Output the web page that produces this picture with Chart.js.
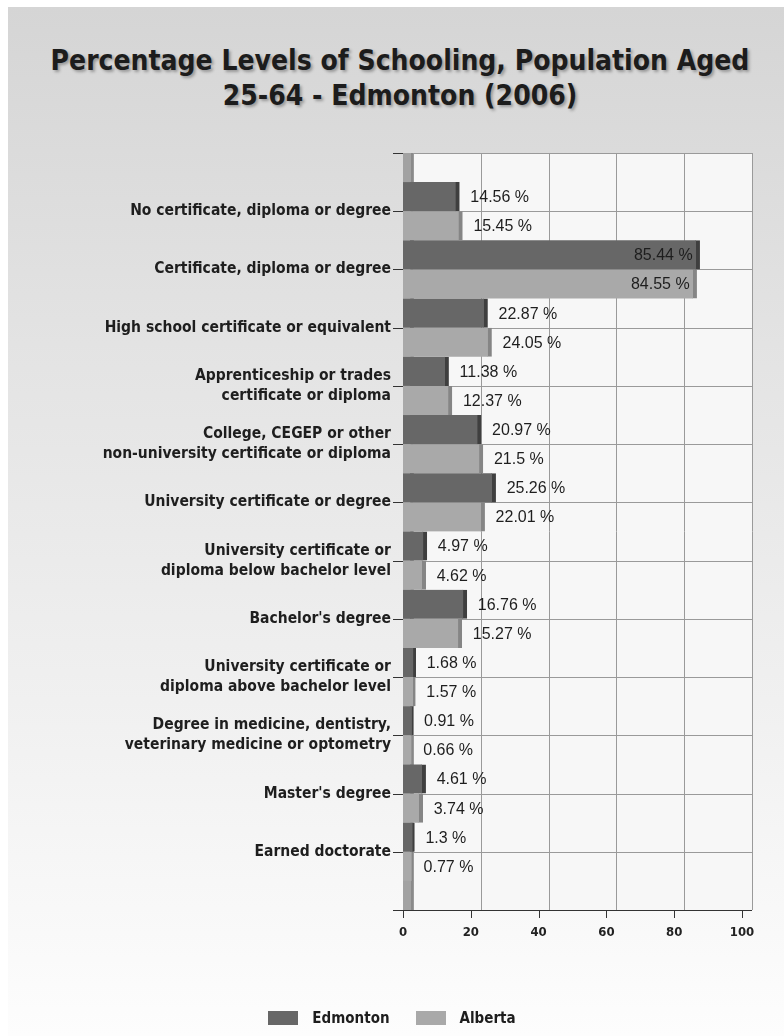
<!DOCTYPE html>
<html>
<head>
<meta charset="utf-8">
<title>Percentage Levels of Schooling, Population Aged 25-64 - Edmonton (2006)</title>
<script src="https://cdn.jsdelivr.net/npm/chart.js@4.4.1/dist/chart.umd.min.js"></script>
<style>
  html, body { margin: 0; padding: 0; background: #fff; }
  #wrap { position: relative; width: 784px; height: 1036px; overflow: hidden; }
  #panel {
    position: absolute; left: 8px; top: 7px; right: 0; bottom: 0;
    background: linear-gradient(to bottom, #d5d5d5 0%, #e4e4e4 35%, #f1f1f1 70%, #fdfdfd 100%);
  }
  #title {
    position: absolute; left: 8px; width: 784px; top: 43px;
    text-align: center; color: #1c1c1c;
    font: bold 28px/35px "DejaVu Sans Condensed", "DejaVu Sans", sans-serif;
    text-shadow: 2px 2px 3px rgba(0, 0, 0, 0.3);
  }
  #chart { position: absolute; left: 0; top: 0; }
  #legend {
    position: absolute; left: 0; width: 784px; top: 1009px;
    display: flex; justify-content: center; align-items: center;
    font: bold 15px "DejaVu Sans Condensed", "DejaVu Sans", sans-serif; color: #1e1e1e;
  }
  #legend .item { display: flex; align-items: center; margin: 0 13px; }
  #legend .swatch { width: 30px; height: 14px; margin-right: 14px; }
</style>
</head>
<body>
<div id="wrap">
  <div id="panel"></div>
  <div id="title">Percentage Levels of Schooling, Population Aged<br>25-64 - Edmonton (2006)</div>
  <canvas id="chart" width="784" height="1036"></canvas>
  <div id="legend"></div>
</div>
<script>
// levels of schooling, top to bottom
const categories = [
  "No certificate, diploma or degree",
  "Certificate, diploma or degree",
  "High school certificate or equivalent",
  ["Apprenticeship or trades", "certificate or diploma"],
  ["College, CEGEP or other", "non-university certificate or diploma"],
  "University certificate or degree",
  ["University certificate or", "diploma below bachelor level"],
  "Bachelor's degree",
  ["University certificate or", "diploma above bachelor level"],
  ["Degree in medicine, dentistry,", "veterinary medicine or optometry"],
  "Master's degree",
  "Earned doctorate"
];

const edmonton = [14.56, 85.44, 22.87, 11.38, 20.97, 25.26, 4.97, 16.76, 1.68, 0.91, 4.61, 1.3];
const alberta  = [15.45, 84.55, 24.05, 12.37, 21.5, 22.01, 4.62, 15.27, 1.57, 0.66, 3.74, 0.77];

const xTicks = [0, 20, 40, 60, 80, 100];

const FONT = '"DejaVu Sans Condensed", "DejaVu Sans", sans-serif';
const WALL = 7;   // depth of the fake 3d left wall
const BACK = 3;   // back wall grid offset

// 3d-ish decorations: back wall, left wall, grid, axis ticks, value labels
const depthPlugin = {
  id: 'depth3d',
  beforeDraw(chart) {
    const { ctx, chartArea: a, scales: { x, y } } = chart;
    ctx.save();
    ctx.fillStyle = '#f7f7f7';
    ctx.fillRect(a.left + BACK, a.top, a.right - a.left, a.bottom - a.top);

    ctx.strokeStyle = '#9a9a9a';
    ctx.lineWidth = 1;
    ctx.beginPath();
    xTicks.forEach(v => {
      const px = Math.round(x.getPixelForValue(v) + BACK) + 0.5;
      ctx.moveTo(px, a.top);
      ctx.lineTo(px, a.bottom);
    });
    for (let i = 0; i <= categories.length + 1; i++) {
      const py = Math.round(y.getPixelForValue(i)) + 0.5;
      ctx.moveTo(a.left + BACK, py);
      ctx.lineTo(a.right + BACK, py);
    }
    ctx.stroke();

    // left wall
    ctx.fillStyle = '#a2a2a2';
    ctx.fillRect(a.left - WALL, a.top, WALL + BACK, a.bottom - a.top);
    ctx.fillStyle = '#8a8a8a';
    ctx.fillRect(a.left + BACK - 2, a.top, 2, a.bottom - a.top);
    ctx.restore();
  },
  beforeDatasetsDraw(chart) {
    // bars run into the left wall
    const { ctx, chartArea: a } = chart;
    ctx.save();
    chart.data.datasets.forEach((ds, di) => {
      chart.getDatasetMeta(di).data.forEach(bar => {
        ctx.fillStyle = ds.backgroundColor;
        ctx.fillRect(a.left - WALL, bar.y - bar.height / 2, WALL + 1, bar.height);
      });
    });
    ctx.restore();
  },
  afterDatasetsDraw(chart) {
    const { ctx } = chart;
    ctx.save();
    ctx.font = '16px "Liberation Sans", Arial, sans-serif';
    ctx.fillStyle = '#1e1e1e';
    ctx.textBaseline = 'middle';
    chart.data.datasets.forEach((ds, di) => {
      chart.getDatasetMeta(di).data.forEach((bar, i) => {
        const v = ds.data[i].x;
        const txt = v + ' %';
        if (v > 80) {
          ctx.textAlign = 'right';
          ctx.fillText(txt, bar.x - 7, bar.y + 1);
        } else {
          ctx.textAlign = 'left';
          ctx.fillText(txt, bar.x + 11, bar.y + 1);
        }
      });
    });
    ctx.restore();
  },
  afterDraw(chart) {
    const { ctx, chartArea: a, scales: { x, y } } = chart;
    ctx.save();
    ctx.strokeStyle = '#333';
    ctx.lineWidth = 1;
    ctx.beginPath();
    // front x axis
    ctx.moveTo(a.left - WALL, a.bottom + 0.5);
    ctx.lineTo(a.right + BACK, a.bottom + 0.5);
    xTicks.forEach(v => {
      const px = Math.round(x.getPixelForValue(v) - WALL) + 0.5;
      ctx.moveTo(px, a.bottom);
      ctx.lineTo(px, a.bottom + 8);
    });
    for (let i = 0; i <= categories.length + 1; i++) {
      const py = Math.round(y.getPixelForValue(i)) + 0.5;
      ctx.moveTo(a.left - WALL - 10, py);
      ctx.lineTo(a.left - WALL, py);
    }
    ctx.stroke();
    ctx.restore();
  }
};

const chart = new Chart(document.getElementById('chart'), {
  type: 'bar',
  data: {
    datasets: [
      {
        label: 'Edmonton',
        data: edmonton.map((v, i) => ({ x: v, y: i + 1 })),
        backgroundColor: '#676767',
        borderColor: '#3f3f3f',
        borderWidth: { top: 0, right: 4, bottom: 0, left: 0 },
        borderSkipped: false
      },
      {
        label: 'Alberta',
        data: alberta.map((v, i) => ({ x: v, y: i + 1 })),
        backgroundColor: '#a9a9a9',
        borderColor: '#858585',
        borderWidth: { top: 0, right: 4, bottom: 0, left: 0 },
        borderSkipped: false
      }
    ]
  },
  options: {
    indexAxis: 'y',
    responsive: false,
    animation: false,
    barPercentage: 1,
    categoryPercentage: 1,
    layout: { padding: { top: 153, right: 35, left: 0, bottom: 0 } },
    scales: {
      x: {
        type: 'linear',
        min: 0,
        max: 100,
        afterBuildTicks: s => { s.ticks = xTicks.map(v => ({ value: v })); },
        afterFit: s => { s.height = 126; },
        grid: { display: false, drawTicks: false },
        border: { display: false },
        ticks: {
          padding: 15,
          labelOffset: -WALL,
          color: '#222',
          font: { family: FONT, size: 13, weight: 'bold' }
        }
      },
      y: {
        type: 'linear',
        reverse: true,
        offset: false,
        min: 0,
        max: categories.length + 1,
        afterFit: s => { s.width = 410; },
        grid: { display: false, drawTicks: false },
        border: { display: false },
        ticks: {
          stepSize: 1,
          autoSkip: false,
          padding: 19,
          color: '#1e1e1e',
          font: { family: FONT, size: 15.5, weight: 'bold', lineHeight: 1.3 },
          callback: v => categories[v - 1] || ''
        }
      }
    },
    plugins: {
      tooltip: { enabled: false },
      legend: { display: false }
    }
  },
  plugins: [depthPlugin]
});

// legend below the chart, built from the datasets
const legendEl = document.getElementById('legend');
chart.data.datasets.forEach(ds => {
  const item = document.createElement('div');
  item.className = 'item';
  const sw = document.createElement('span');
  sw.className = 'swatch';
  sw.style.background = ds.backgroundColor;
  item.appendChild(sw);
  item.appendChild(document.createTextNode(ds.label));
  legendEl.appendChild(item);
});
</script>
</body>
</html>
